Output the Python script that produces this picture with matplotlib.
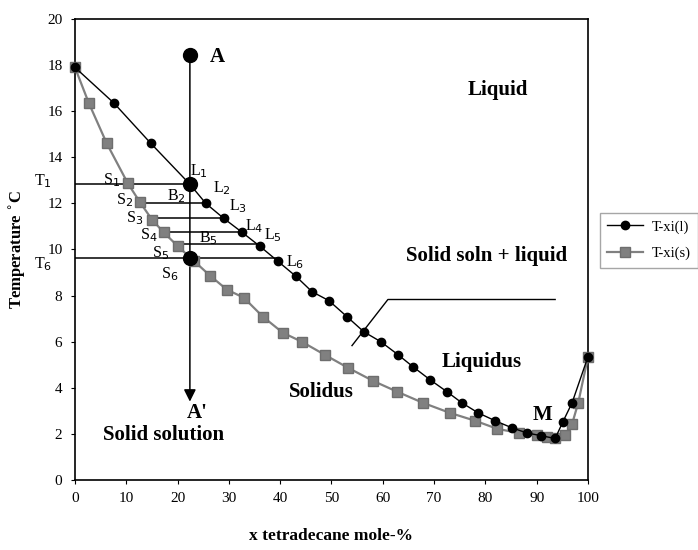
import matplotlib
matplotlib.use('Agg')
import matplotlib.pyplot as plt

plt.rcParams['font.family'] = ['Liberation Serif', 'DejaVu Serif']

# liquidus, T-xi(l)
x_liq = [0, 7.6, 14.8, 22.4, 25.5, 29.0, 32.6, 36.1, 39.6, 43.1, 46.2, 49.5, 53.0, 56.3,
         59.6, 63.0, 65.9, 69.2, 72.5, 75.4, 78.6, 81.9, 85.2, 88.1, 90.9, 93.6, 95.1,
         96.9, 100]
t_liq = [17.9, 16.35, 14.6, 12.83, 12.0, 11.35, 10.74, 10.13, 9.48, 8.83, 8.17, 7.78, 7.09,
         6.43, 6.0, 5.43, 4.91, 4.35, 3.83, 3.35, 2.91, 2.57, 2.26, 2.04, 1.92, 1.8, 2.52,
         3.35, 5.35]

# solidus, T-xi(s)
x_sol = [0, 2.7, 6.2, 10.3, 12.7, 15.0, 17.3, 20.1, 23.2, 26.3, 29.6, 32.9, 36.6, 40.5,
         44.2, 48.7, 53.2, 58.1, 62.8, 67.8, 73.1, 78.0, 82.3, 86.5, 90.1, 92.0, 93.6,
         95.5, 96.9, 98.1, 100]
t_sol = [17.9, 16.35, 14.6, 12.87, 12.04, 11.3, 10.74, 10.13, 9.5, 8.87, 8.26, 7.91, 7.09,
         6.39, 6.0, 5.43, 4.87, 4.3, 3.83, 3.35, 2.91, 2.57, 2.22, 2.04, 1.96, 1.87, 1.8,
         1.96, 2.43, 3.35, 5.35]

# tie lines (T, from x, to x)
tie_t = [12.83, 12.02, 11.35, 10.74, 10.22, 9.65]
tie_x0 = [0, 12.7, 15.0, 17.3, 20.1, 0]
tie_x1 = [22.4, 25.5, 29.0, 32.6, 36.1, 39.6]

# cooling path A -> A'
path_x = 22.4
path_top = 18.43
path_bottom = 3.4
big_pts_t = [18.43, 12.83, 9.65]

# point labels (text, x, T)
pt_labels = [('L$_1$', 24.1, 13.4), ('L$_2$', 28.7, 12.65), ('L$_3$', 31.8, 11.9),
             ('L$_4$', 34.9, 11.0), ('L$_5$', 38.5, 10.6), ('L$_6$', 42.9, 9.45),
             ('S$_1$', 7.2, 13.0), ('S$_2$', 9.6, 12.15), ('S$_3$', 11.7, 11.35),
             ('S$_4$', 14.4, 10.6), ('S$_5$', 16.7, 9.85), ('S$_6$', 18.5, 8.95),
             ('B$_2$', 19.8, 12.3), ('B$_5$', 26.0, 10.5)]
region_labels = [('A', 27.8, 18.35), ("A'", 23.8, 2.9), ('Liquid', 82.5, 16.9),
                 ('Solid soln + liquid', 80.3, 9.7), ('Liquidus', 79.3, 5.1),
                 ('Solidus', 48.0, 3.83), ('M', 91.1, 2.83), ('Solid solution', 17.2, 1.95)]
leader_x = [54.0, 61.0, 93.6]
leader_t = [5.83, 7.83, 7.83]

fig = plt.figure(figsize=(6.98, 5.5), dpi=100)
ax = fig.add_axes([0.1074, 0.1273, 0.7350, 0.8382])

ln_liq, = ax.plot(x_liq, t_liq, '-o', color='black', lw=1.0, ms=6, zorder=4,
                  label='T-xi(l)', clip_on=False)
ln_sol, = ax.plot(x_sol, t_sol, '-s', color='#808080', mec='#6e6e6e', lw=1.6, ms=6.5,
                  zorder=3, label='T-xi(s)', clip_on=False)

for t, a, b in zip(tie_t, tie_x0, tie_x1):
    ax.plot([a, b], [t, t], color='black', lw=1.1, zorder=2)

ax.annotate('', xy=(path_x, path_bottom), xytext=(path_x, path_top),
            arrowprops=dict(arrowstyle='-|>', color='black', lw=1.1,
                            mutation_scale=18, shrinkA=0, shrinkB=0), zorder=2)
ax.plot([path_x] * len(big_pts_t), big_pts_t, 'o', color='black', ms=10, zorder=5)

ax.plot(leader_x, leader_t, color='black', lw=1.0, zorder=2)

for s, x, t in pt_labels:
    ax.text(x, t, s, fontsize=11.5, ha='center', va='center', zorder=6)
for s, x, t in region_labels:
    ax.text(x, t, s, fontsize=15, fontweight='bold', ha='center', va='center', zorder=6)

ax.text(-6.2, 12.96, 'T$_1$', fontsize=11.5, ha='center', va='center', clip_on=False)
ax.text(-6.2, 9.35, 'T$_6$', fontsize=11.5, ha='center', va='center', clip_on=False)

ax.set_xlim(0, 100)
ax.set_ylim(0, 20)
ax.set_xticks(range(0, 101, 10))
ax.set_yticks(range(0, 21, 2))
ax.tick_params(direction='out', length=3, width=0.8, labelsize=11, pad=6)
for sp in ax.spines.values():
    sp.set_linewidth(1.2)
ax.set_xlabel('x tetradecane mole-%', fontsize=12.5, fontweight='bold', labelpad=16)
ax.set_ylabel('Temperature $^{\\circ}$C', fontsize=12, fontweight='bold', labelpad=14)

fig.legend(handles=[ln_liq, ln_sol], loc='upper left', bbox_to_anchor=(0.859, 0.613),
           fontsize=10.5, frameon=True, fancybox=False, edgecolor='#909090',
           handlelength=2.5, handletextpad=0.6, borderpad=0.5, labelspacing=0.9,
           borderaxespad=0)

fig.savefig('out.png', dpi=100)
